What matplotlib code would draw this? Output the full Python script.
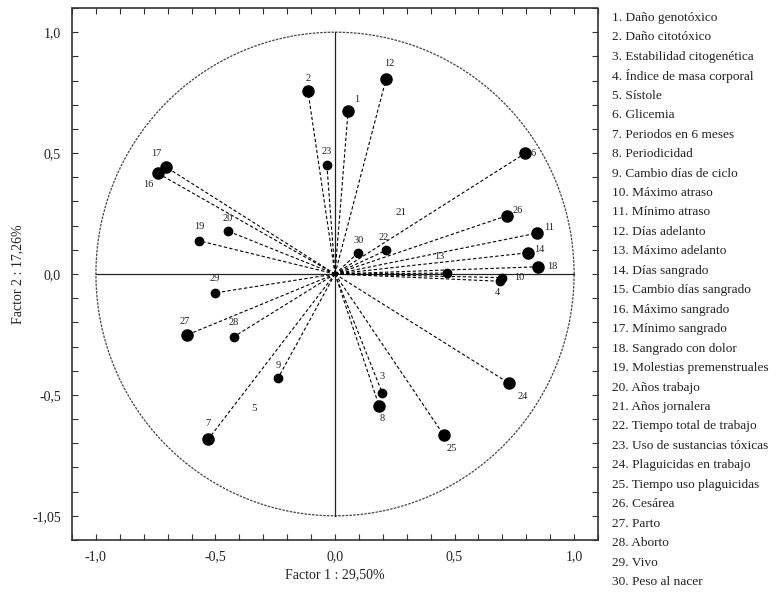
import matplotlib
matplotlib.use("Agg")
import matplotlib.pyplot as plt
import numpy as np
from matplotlib.ticker import MultipleLocator, FixedLocator, FixedFormatter

plt.rcParams['font.family'] = ['Liberation Serif', 'DejaVu Serif']

# ---- data: loadings on Factor 1 / Factor 2 ----
ids = [1, 2, 3, 4, 6, 7, 8, 9, 10, 11, 12, 13, 14, 16, 17, 18, 19, 20,
       22, 23, 24, 25, 26, 27, 28, 29, 30]
f1 = [0.055, -0.113, 0.198, 0.69, 0.795, -0.53, 0.184, -0.238, 0.70, 0.844,
      0.214, 0.47, 0.809, -0.74, -0.705, 0.851, -0.567, -0.449,
      0.214, -0.034, 0.727, 0.454, 0.719, -0.621, -0.424, -0.501, 0.097]
f2 = [0.676, 0.756, -0.493, -0.03, 0.499, -0.683, -0.544, -0.43, -0.015, 0.169,
      0.808, 0.004, 0.088, 0.416, 0.441, 0.030, 0.137, 0.178,
      0.098, 0.451, -0.451, -0.665, 0.241, -0.253, -0.26, -0.078, 0.088]
# variables shown only by their number (no marker)
text_ids = [5, 21]
text_f1 = [-0.339, 0.276]
text_f2 = [-0.555, 0.253]

legend_items = [
    "1. Daño genotóxico", "2. Daño citotóxico", "3. Estabilidad citogenética",
    "4. Índice de masa corporal", "5. Sístole", "6. Glicemia",
    "7. Periodos en 6 meses", "8. Periodicidad", "9. Cambio días de ciclo",
    "10. Máximo atraso", "11. Mínimo atraso", "12. Días adelanto",
    "13. Máximo adelanto", "14. Días sangrado", "15. Cambio días sangrado",
    "16. Máximo sangrado", "17. Mínimo sangrado", "18. Sangrado con dolor",
    "19. Molestias premenstruales", "20. Años trabajo", "21. Años jornalera",
    "22. Tiempo total de trabajo", "23. Uso de sustancias tóxicas",
    "24. Plaguicidas en trabajo", "25. Tiempo uso plaguicidas", "26. Cesárea",
    "27. Parto", "28. Aborto", "29. Vivo", "30. Peso al nacer"]

xlabel = "Factor 1 : 29,50%"
ylabel = "Factor 2 : 17,26%"
xtick_vals = [-1.0, -0.5, 0.0, 0.5, 1.0]
xtick_text = ["-1,0", "-0,5", "0,0", "0,5", "1,0"]
ytick_vals = [-1.0, -0.5, 0.0, 0.5, 1.0]
ytick_text = ["-1,05", "-0,5", "0,0", "0,5", "1,0"]

# ---- styling: label offsets in points ----
offsets = {1: (6, 8), 2: (0, 9), 3: (0, 12), 4: (-2, -8), 6: (6, 0), 7: (0, 11),
           8: (2, -9), 9: (0, 9), 10: (12, 0), 11: (9, 4), 12: (2, 11),
           13: (-6, 12), 14: (8, 2), 16: (-7, -8), 17: (-7, 10), 18: (10, 0),
           19: (0, 10), 20: (0, 9), 22: (-2, 9), 23: (0, 10), 24: (10, -10),
           25: (6, -10), 26: (8, 4), 27: (-1, 10), 28: (0, 10), 29: (0, 10),
           30: (0, 9)}
small = {3, 4, 9, 10, 13, 19, 20, 22, 23, 28, 29, 30}

fig = plt.figure(figsize=(7.8, 5.99), dpi=100)
ax = fig.add_axes([72/780, 59/599, 526/780, 532/599])
ax.set_xlim(-1.1, 1.1)
ax.set_ylim(-1.1, 1.1)

# unit circle and diameters
t = np.linspace(0, 2*np.pi, 400)
ax.plot(np.cos(t), np.sin(t), color='#444444', lw=0.9, ls=(0, (2, 1)))
ax.plot([-1, 1], [0, 0], color='#222222', lw=0.9)
ax.plot([0, 0], [-1, 1], color='#222222', lw=0.9)

for i, x, y in zip(ids, f1, f2):
    ax.plot([0, x], [0, y], color='black', lw=0.8, ls=(0, (3, 2)))
    ms = 6 if i in small else 8
    ax.plot(x, y, 'o', color='black', ms=ms)
    dx, dy = offsets.get(i, (0, 9))
    ax.annotate(str(i), (x, y), xytext=(dx, dy), textcoords='offset points',
                ha='center', va='center', fontsize=7.5, color='#222222')

for i, x, y in zip(text_ids, text_f1, text_f2):
    ax.text(x, y, str(i), ha='center', va='center', fontsize=8, color='#222222')

# ticks
ax.xaxis.set_major_locator(FixedLocator(xtick_vals))
ax.xaxis.set_major_formatter(FixedFormatter(xtick_text))
ax.yaxis.set_major_locator(FixedLocator(ytick_vals))
ax.yaxis.set_major_formatter(FixedFormatter(ytick_text))
ax.xaxis.set_minor_locator(MultipleLocator(0.1))
ax.yaxis.set_minor_locator(MultipleLocator(0.1))
ax.tick_params(which='both', direction='in', top=True, right=True,
               length=4, width=0.8, labelsize=10, color='#333333',
               labelcolor='#222222')
ax.tick_params(axis='x', pad=7)
ax.tick_params(axis='y', pad=8)
for s in ax.spines.values():
    s.set_linestyle((0, (1, 1)))
    s.set_linewidth(1.2)
    s.set_color('#333333')

ax.set_xlabel(xlabel, fontsize=10, labelpad=4, color='#222222')
ax.set_ylabel(ylabel, fontsize=10, labelpad=6, color='#222222')

# numbered variable list on the right
y0 = 1 - 18/599
step = 19.45/599
for k, txt in enumerate(legend_items):
    fig.text(612/780, y0 - k*step, txt, fontsize=9.6, va='center', ha='left',
             color='#222222')

fig.savefig("out.png", dpi=100)
